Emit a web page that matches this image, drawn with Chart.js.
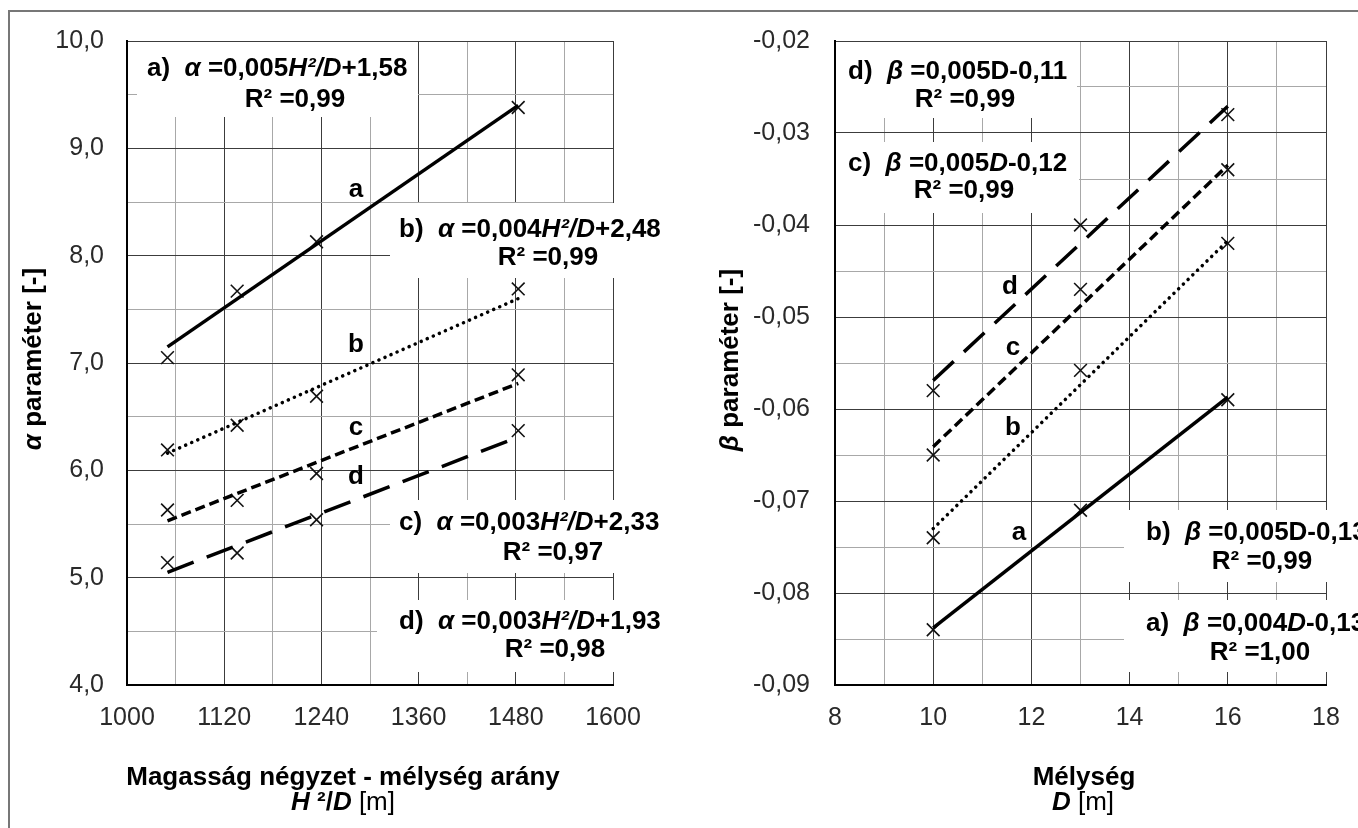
<!DOCTYPE html>
<html><head><meta charset="utf-8">
<script src="https://cdn.jsdelivr.net/npm/chart.js@4.4.1/dist/chart.umd.min.js"></script>
<style>
html,body{margin:0;padding:0;background:#fff;}
#wrap{position:relative;width:1358px;height:828px;overflow:hidden;background:#fff;}
canvas{position:absolute;top:0;}
</style></head><body>
<div id="wrap"><canvas id="c1" width="679" height="828" style="left:0;width:679px;height:828px"></canvas><canvas id="c2" width="679" height="828" style="left:679px;width:679px;height:828px"></canvas></div>
<script>
// ---------- data ----------
const alphaX = [1050, 1136, 1234, 1483];
const alphaA = [7.05, 7.67, 8.13, 9.38];
const alphaB = [6.19, 6.42, 6.69, 7.69];
const alphaC = [5.63, 5.72, 5.97, 6.89];
const alphaD = [5.14, 5.23, 5.54, 6.37];
const alphaTrendX = [1050, 1483];
const alphaTrendA = [7.15, 9.40];
const alphaTrendB = [6.16, 7.60];
const alphaTrendC = [5.53, 6.81];
const alphaTrendD = [5.05, 6.31];

const betaX = [10, 13, 16];
const betaA = [-0.084, -0.071, -0.059];
const betaB = [-0.074, -0.0558, -0.042];
const betaC = [-0.065, -0.047, -0.034];
const betaD = [-0.058, -0.040, -0.028];
const betaTrendX = [10, 16];
const betaTrendA = [-0.0838, -0.0587];
const betaTrendB = [-0.0730, -0.0417];
const betaTrendC = [-0.0641, -0.0335];
const betaTrendD = [-0.0569, -0.0271];

const alphaXTicks = [1000, 1120, 1240, 1360, 1480, 1600];
const alphaXMinor = [1060, 1180, 1300, 1420, 1540];
const alphaYTicks = [4, 5, 6, 7, 8, 9, 10];
const alphaYMinor = [4.5, 5.5, 6.5, 7.5, 8.5, 9.5];
const betaXTicks = [8, 10, 12, 14, 16, 18];
const betaXMinor = [9, 11, 13, 15, 17];
const betaYTicks = [-0.09, -0.08, -0.07, -0.06, -0.05, -0.04, -0.03, -0.02];
const betaYMinor = [-0.085, -0.075, -0.065, -0.055, -0.045, -0.035, -0.025];

// ---------- helpers ----------
const FAM = '"Liberation Sans", Arial, sans-serif';
const NOTE = 26, TITLE = 26, LETTER = 26;
function fontStr(st, size) {
  return (st.indexOf('i') >= 0 ? 'italic ' : '') + (st.indexOf('b') >= 0 ? 'bold ' : '') + size + 'px ' + FAM;
}
function drawRich(ctx, segs, x, y, size, align) {
  let w = 0;
  segs.forEach(s => { ctx.font = fontStr(s[1], size); w += ctx.measureText(s[0]).width; });
  let cur = align === 'left' ? x : (align === 'right' ? x - w : x - w / 2);
  ctx.textBaseline = 'middle';
  ctx.textAlign = 'left';
  ctx.fillStyle = '#000';
  segs.forEach(s => { ctx.font = fontStr(s[1], size); ctx.fillText(s[0], cur, y); cur += ctx.measureText(s[0]).width; });
  return w;
}
function pts(xs, ys) { return xs.map((x, i) => ({ x: x, y: ys[i] })); }
function markers(xs, ys) {
  return { data: pts(xs, ys), showLine: false, pointStyle: 'crossRot', pointRadius: 9,
    pointBorderColor: '#111', pointBorderWidth: 1.6, pointBackgroundColor: 'rgba(0,0,0,0)' };
}
function trend(xs, ys, dash, cap) {
  return { data: pts(xs, ys), showLine: true, pointRadius: 0, borderColor: '#000', borderWidth: 3.5,
    borderDash: dash, borderCapStyle: cap || 'butt', fill: false, tension: 0 };
}
function axis(min, max, major, minor, fmt, o) {
  const all = major.concat(minor).sort((a, b) => a - b);
  const isMajor = v => major.some(m => Math.abs(m - v) < 1e-9);
  return {
    type: 'linear', min: min, max: max,
    afterBuildTicks: s => { s.ticks = all.map(v => ({ value: v })); },
    ticks: { autoSkip: false, maxRotation: 0, font: { family: FAM, size: 25 }, color: '#2a2a2a', padding: o.pad,
      callback: v => isMajor(v) ? fmt(v) : '' },
    grid: { color: c => (c.tick && isMajor(c.tick.value)) ? '#3c3c3c' : '#a8a8a8', lineWidth: 1, drawTicks: false },
    border: { display: true, color: '#000', width: 2 },
    afterFit: s => { if (o.w) s.width = o.w; if (o.h) s.height = o.h; }
  };
}
function makePlugin(cfg) {
  return {
    id: 'deco' + cfg.id,
    beforeDraw(chart) {
      const ctx = chart.ctx;
      ctx.save();
      ctx.fillStyle = '#fff';
      ctx.fillRect(0, 0, chart.width, chart.height);
      ctx.restore();
    },
    beforeDatasetsDraw(chart) {
      const ctx = chart.ctx;
      ctx.save();
      cfg.boxes.forEach(b => {
        ctx.fillStyle = '#fff';
        ctx.fillRect(b.x0, b.y0, b.x1 - b.x0, b.y1 - b.y0);
      });
      cfg.notes.forEach(n => drawRich(ctx, n.segs, n.x, n.y, NOTE, n.align));
      ctx.restore();
    },
    afterDraw(chart) {
      const ctx = chart.ctx;
      ctx.save();
      cfg.letters.forEach(l => drawRich(ctx, [[l.t, 'b']], l.x, l.y, LETTER, 'center'));
      cfg.xtitle.forEach(l => drawRich(ctx, l.segs, l.x, l.y, TITLE, 'center'));
      ctx.translate(cfg.ytitle.x, cfg.ytitle.y);
      ctx.rotate(-Math.PI / 2);
      drawRich(ctx, cfg.ytitle.segs, 0, 0, TITLE, 'center');
      ctx.restore();
      // outer frame
      ctx.save();
      ctx.fillStyle = '#777';
      ctx.fillRect(cfg.frameLeft ? 8 : 0, 10, chart.width, 2);
      if (cfg.frameLeft) ctx.fillRect(8, 10, 2, chart.height);
      ctx.restore();
    }
  };
}
const baseOpts = {
  responsive: false, animation: false, devicePixelRatio: 1, events: [],
  plugins: { legend: { display: false }, tooltip: { enabled: false } }
};

// ---------- left chart ----------
const fmtA = v => v.toFixed(1).replace('.', ',');
const leftPlugin = makePlugin({
  id: 'L', frameLeft: true,
  boxes: [
    { x0: 137, y0: 42, x1: 418, y1: 117 },
    { x0: 390, y0: 203, x1: 679, y1: 278 },
    { x0: 390, y0: 500, x1: 679, y1: 573 },
    { x0: 377, y0: 600, x1: 679, y1: 672 }
  ],
  notes: [
    { segs: [['a)  ', 'b'], ['α ', 'bi'], ['=0,005', 'b'], ['H²/D', 'bi'], ['+1,58', 'b']], x: 147, y: 69, align: 'left' },
    { segs: [['R² =0,99', 'b']], x: 295, y: 100, align: 'center' },
    { segs: [['b)  ', 'b'], ['α ', 'bi'], ['=0,004', 'b'], ['H²/D', 'bi'], ['+2,48', 'b']], x: 399, y: 230, align: 'left' },
    { segs: [['R² =0,99', 'b']], x: 548, y: 258, align: 'center' },
    { segs: [['c)  ', 'b'], ['α ', 'bi'], ['=0,003', 'b'], ['H²/D', 'bi'], ['+2,33', 'b']], x: 399, y: 523, align: 'left' },
    { segs: [['R² =0,97', 'b']], x: 553, y: 553, align: 'center' },
    { segs: [['d)  ', 'b'], ['α ', 'bi'], ['=0,003', 'b'], ['H²/D', 'bi'], ['+1,93', 'b']], x: 399, y: 622, align: 'left' },
    { segs: [['R² =0,98', 'b']], x: 555, y: 650, align: 'center' }
  ],
  letters: [
    { t: 'a', x: 356, y: 190 }, { t: 'b', x: 356, y: 345 }, { t: 'c', x: 356, y: 428 }, { t: 'd', x: 356, y: 477 }
  ],
  xtitle: [
    { segs: [['Magasság négyzet - mélység arány', 'b']], x: 343, y: 778 },
    { segs: [['H', 'bi'], [' ²/', 'b'], ['D', 'bi'], [' [m]', '']], x: 343, y: 803 }
  ],
  ytitle: { x: 34, y: 359, segs: [['α', 'bi'], [' paraméter [-]', 'b']] }
});
new Chart(document.getElementById('c1'), {
  type: 'scatter',
  data: { datasets: [
    trend(alphaTrendX, alphaTrendA, [], 'butt'),
    trend(alphaTrendX, alphaTrendB, [0.1, 6.5], 'round'),
    trend(alphaTrendX, alphaTrendC, [10, 5]),
    trend(alphaTrendX, alphaTrendD, [28, 14]),
    markers(alphaX, alphaA), markers(alphaX, alphaB), markers(alphaX, alphaC), markers(alphaX, alphaD)
  ] },
  options: Object.assign({}, baseOpts, {
    layout: { padding: { top: 41, right: 66, left: 0, bottom: 0 } },
    scales: {
      x: axis(1000, 1600, alphaXTicks, alphaXMinor, v => String(v), { pad: 18, h: 143 }),
      y: axis(4, 10, alphaYTicks, alphaYMinor, fmtA, { pad: 23, w: 127 })
    }
  }),
  plugins: [leftPlugin]
});

// ---------- right chart ----------
const fmtB = v => v.toFixed(2).replace('.', ',');
const O = 679;
const rightPlugin = makePlugin({
  id: 'R', frameLeft: false,
  boxes: [
    { x0: 836 - O, y0: 42, x1: 1077 - O, y1: 118 },
    { x0: 836 - O, y0: 142, x1: 1079 - O, y1: 213 },
    { x0: 1124 - O, y0: 510, x1: 679, y1: 582 },
    { x0: 1124 - O, y0: 600, x1: 679, y1: 672 }
  ],
  notes: [
    { segs: [['d)  ', 'b'], ['β ', 'bi'], ['=0,005D-0,11', 'b']], x: 848 - O, y: 72, align: 'left' },
    { segs: [['R² =0,99', 'b']], x: 965 - O, y: 100, align: 'center' },
    { segs: [['c)  ', 'b'], ['β ', 'bi'], ['=0,005', 'b'], ['D', 'bi'], ['-0,12', 'b']], x: 848 - O, y: 164, align: 'left' },
    { segs: [['R² =0,99', 'b']], x: 964 - O, y: 191, align: 'center' },
    { segs: [['b)  ', 'b'], ['β ', 'bi'], ['=0,005D-0,13', 'b']], x: 1146 - O, y: 533, align: 'left' },
    { segs: [['R² =0,99', 'b']], x: 1262 - O, y: 562, align: 'center' },
    { segs: [['a)  ', 'b'], ['β ', 'bi'], ['=0,004', 'b'], ['D', 'bi'], ['-0,13', 'b']], x: 1146 - O, y: 624, align: 'left' },
    { segs: [['R² =1,00', 'b']], x: 1260 - O, y: 653, align: 'center' }
  ],
  letters: [
    { t: 'd', x: 1010 - O, y: 287 }, { t: 'c', x: 1013 - O, y: 348 }, { t: 'b', x: 1013 - O, y: 428 }, { t: 'a', x: 1019 - O, y: 533 }
  ],
  xtitle: [
    { segs: [['Mélység', 'b']], x: 1084 - O, y: 778 },
    { segs: [['D', 'bi'], [' [m]', '']], x: 1083 - O, y: 803 }
  ],
  ytitle: { x: 731 - O, y: 360, segs: [['β', 'bi'], [' paraméter [-]', 'b']] }
});
new Chart(document.getElementById('c2'), {
  type: 'scatter',
  data: { datasets: [
    trend(betaTrendX, betaTrendA, [], 'butt'),
    trend(betaTrendX, betaTrendB, [0.1, 6.5], 'round'),
    trend(betaTrendX, betaTrendC, [10, 5]),
    trend(betaTrendX, betaTrendD, [28, 14]),
    markers(betaX, betaA), markers(betaX, betaB), markers(betaX, betaC), markers(betaX, betaD)
  ] },
  options: Object.assign({}, baseOpts, {
    layout: { padding: { top: 41, right: 32, left: 0, bottom: 0 } },
    scales: {
      x: axis(8, 18, betaXTicks, betaXMinor, v => String(v), { pad: 18, h: 143 }),
      y: axis(-0.09, -0.02, betaYTicks, betaYMinor, fmtB, { pad: 25, w: 156 })
    }
  }),
  plugins: [rightPlugin]
});
</script>
</body></html>
